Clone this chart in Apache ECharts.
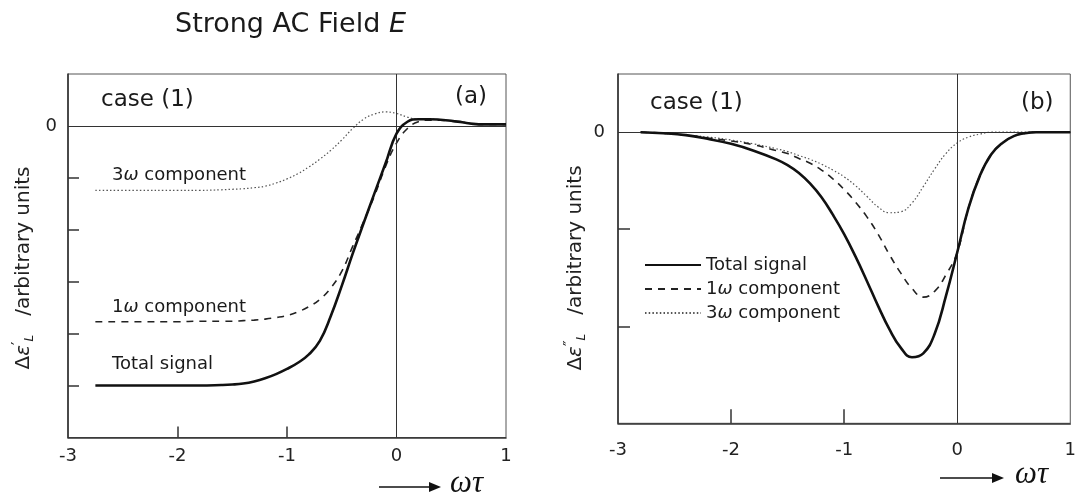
<!DOCTYPE html>
<html>
<head>
<meta charset="utf-8">
<script src="https://cdn.jsdelivr.net/npm/echarts@6/dist/echarts.min.js"></script>
<style>html,body{margin:0;padding:0;background:#fff;}#c{width:1079px;height:499px;}</style>
</head>
<body>
<div id="c"></div>
<script>
// ---- data ----
const leftX = [-2.75,-2.4,-2.0,-1.8,-1.6,-1.5,-1.4,-1.3,-1.2,-1.1,-1.0,-0.9,-0.8,-0.7,-0.6,-0.5,-0.4,-0.3,-0.2,-0.1,0,0.1,0.2,0.3,0.4,0.5,0.6,0.7,0.8,0.9,1.0];
const leftTotal = [-5.00,-5.00,-5.00,-5.00,-4.99,-4.98,-4.96,-4.92,-4.86,-4.78,-4.68,-4.56,-4.40,-4.14,-3.66,-3.08,-2.46,-1.87,-1.29,-0.72,-0.15,0.08,0.13,0.13,0.12,0.10,0.07,0.04,0.03,0.03,0.03];
const leftOne = [-3.77,-3.77,-3.77,-3.76,-3.76,-3.76,-3.75,-3.74,-3.72,-3.69,-3.65,-3.58,-3.48,-3.34,-3.12,-2.80,-2.32,-1.84,-1.34,-0.78,-0.33,-0.05,0.08,0.11,0.11,0.09,0.07,0.04,0.03,0.03,0.03];
const leftThree = [-1.24,-1.24,-1.24,-1.24,-1.23,-1.22,-1.21,-1.19,-1.16,-1.10,-1.02,-0.92,-0.79,-0.64,-0.47,-0.27,-0.05,0.13,0.23,0.27,0.24,0.17,0.13,0.13,0.12,0.10,0.07,0.04,0.03,0.03,0.03];

const rightX = [-2.8,-2.6,-2.4,-2.2,-2.0,-1.8,-1.6,-1.5,-1.4,-1.3,-1.2,-1.1,-1.0,-0.9,-0.8,-0.7,-0.6,-0.5,-0.4,-0.3,-0.2,-0.1,0,0.1,0.2,0.3,0.4,0.5,0.6,0.7,0.8,1.0];
const rightTotal = [0,-0.01,-0.03,-0.07,-0.12,-0.19,-0.28,-0.34,-0.42,-0.53,-0.67,-0.85,-1.05,-1.28,-1.53,-1.79,-2.03,-2.22,-2.32,-2.28,-2.08,-1.69,-1.24,-0.78,-0.45,-0.23,-0.11,-0.04,-0.01,0,0,0];
const rightOne = [0,-0.01,-0.03,-0.06,-0.09,-0.13,-0.19,-0.22,-0.27,-0.32,-0.39,-0.48,-0.59,-0.72,-0.87,-1.05,-1.26,-1.45,-1.61,-1.70,-1.64,-1.47,-1.24,-0.78,-0.45,-0.23,-0.11,-0.04,-0.01,0,0,0];
const rightThree = [0,-0.01,-0.03,-0.05,-0.08,-0.12,-0.17,-0.20,-0.24,-0.28,-0.33,-0.39,-0.46,-0.55,-0.66,-0.77,-0.83,-0.82,-0.73,-0.56,-0.38,-0.22,-0.11,-0.05,-0.02,0,0,0,0,0,0,0];

const xTickLabels = [-3,-2,-1,0,1];
const xTickMarks = [-2,-1];
const leftYTickMarks = [-5,-4,-3,-2,-1];
const rightYTickMarks = [-2,-1];
const yTickLabels = [0];
const seriesNames = ['Total signal','1ω component','3ω component'];

// ---- chart ----
const FONT = 'DejaVu Sans';
const chart = echarts.init(document.getElementById('c'), null, {renderer:'canvas'});
const pairs = (xs, ys) => xs.map((x,i)=>[x, ys[i]]);

const styles = [
  {color:'#111', width:2.6, type:'solid'},
  {color:'#222', width:1.6, type:[7,6]},
  {color:'#555', width:1.2, type:[1.5,2.2]}
];

function mkSeries(idx, xs, ys, si, withLines){
  const s = {
    type:'line', name:seriesNames[si], xAxisIndex:idx, yAxisIndex:idx,
    data:pairs(xs, ys), showSymbol:false, symbol:'none', smooth:0.45,
    lineStyle:{color:styles[si].color, width:styles[si].width, type:styles[si].type},
    itemStyle:{color:styles[si].color},
    z: 5 - si, silent:true, animation:false
  };
  if (withLines) {
    s.markLine = {
      silent:true, symbol:'none', animation:false, label:{show:false},
      lineStyle:{color:'#333', width:1, type:'solid'},
      data:[{yAxis:0},{xAxis:0}]
    };
  }
  return s;
}

function xAxisCfg(idx, tickLen, margin){
  return {
    gridIndex:idx, type:'value', min:-3, max:1, interval:1,
    axisLine:{show:true, onZero:false, lineStyle:{color:'#333', width:1.6}},
    axisTick:{show:true, inside:true, length:tickLen, customValues:xTickMarks, lineStyle:{color:'#333', width:1.5}},
    axisLabel:{show:true, customValues:xTickLabels, margin:margin, fontSize:18, fontFamily:FONT, color:'#222', showMinLabel:true, showMaxLabel:true},
    splitLine:{show:false}
  };
}
function yAxisCfg(idx, min, max, ticks, tickLen, margin){
  return {
    gridIndex:idx, type:'value', min:min, max:max, interval:1,
    axisLine:{show:true, onZero:false, lineStyle:{color:'#333', width:1.6}},
    axisTick:{show:true, inside:true, length:tickLen, customValues:ticks, lineStyle:{color:'#333', width:1.5}},
    axisLabel:{show:true, customValues:yTickLabels, margin:margin, fontSize:18, fontFamily:FONT, color:'#222'},
    splitLine:{show:false}
  };
}

const txt = (x, y, text, size) => ({
  type:'text', x:x, y:y, silent:true,
  style:{text:text, fontSize:size, fontFamily:FONT, fill:'#1a1a1a', align:'left', verticalAlign:'middle',
    rich:{
      n:{fontSize:size, fontFamily:FONT, fill:'#1a1a1a'},
      i:{fontSize:size, fontFamily:FONT, fontStyle:'italic', fill:'#1a1a1a'}
    }}
});

function yName(x, y, prime){
  return {
    type:'text', x:x, y:y, rotation:Math.PI/2, silent:true,
    style:{
      text:'{d|Δ}{e|ε}{p|' + prime + '}{s|L}{d|   /arbitrary units}',
      align:'center', verticalAlign:'middle', fontSize:20, fontFamily:FONT, fill:'#222',
      rich:{
        d:{fontSize:20, fontFamily:FONT, fill:'#222'},
        e:{fontSize:20, fontFamily:FONT, fontStyle:'italic', fill:'#222'},
        p:{fontSize:15, fontFamily:FONT, fill:'#222', padding:[0,0,9,0]},
        s:{fontSize:12, fontFamily:FONT, fontStyle:'italic', fill:'#222', padding:[11,0,0,0]}
      }
    }
  };
}

function arrow(x1, x2, y, tx){
  return [
    {type:'line', silent:true, shape:{x1:x1, y1:y, x2:x2-8, y2:y}, style:{stroke:'#111', lineWidth:1.6}},
    {type:'polygon', silent:true, shape:{points:[[x2-12,y-5],[x2,y],[x2-12,y+5]]}, style:{fill:'#111'}},
    {type:'text', x:tx, y:y-3, silent:true, style:{text:'ωτ', fontSize:31, fontFamily:'Liberation Serif', fontStyle:'italic', fill:'#111', align:'left', verticalAlign:'middle'}}
  ];
}

const option = {
  backgroundColor:'#fff',
  animation:false,
  grid:[
    {left:68, top:74, width:438, height:363.5, show:true, borderColor:'#555', borderWidth:1, backgroundColor:'transparent'},
    {left:618, top:74, width:459, height:349.3, show:true, borderColor:'#555', borderWidth:1, backgroundColor:'transparent'}
  ],
  xAxis:[ xAxisCfg(0, 11, 10), xAxisCfg(1, 14, 18) ],
  yAxis:[ yAxisCfg(0, -6, 1, leftYTickMarks, 11, 11), yAxisCfg(1, -3, 0.6, rightYTickMarks, 12, 13) ],
  legend:{
    show:true, orient:'vertical', left:644, top:256, padding:0,
    itemWidth:56, itemHeight:14, itemGap:6, selectedMode:false,
    data:seriesNames,
    itemStyle:{opacity:0, color:'transparent', borderWidth:0},
    textStyle:{fontSize:18, fontFamily:FONT, color:'#1a1a1a',
      rich:{n:{fontSize:18, fontFamily:FONT, color:'#1a1a1a'}, i:{fontSize:18, fontFamily:FONT, fontStyle:'italic', color:'#1a1a1a'}}},
    formatter: function(name){
      const m = name.match(/^(\d)ω(.*)$/);
      return m ? '{n|' + m[1] + '}{i|ω}{n|' + m[2] + '}' : '{n|' + name + '}';
    }
  },
  series:[
    mkSeries(0, leftX, leftTotal, 0, true),
    mkSeries(0, leftX, leftOne, 1, false),
    mkSeries(0, leftX, leftThree, 2, false),
    mkSeries(1, rightX, rightTotal, 0, true),
    mkSeries(1, rightX, rightOne, 1, false),
    mkSeries(1, rightX, rightThree, 2, false)
  ],
  graphic:[
    txt(175, 25, '{n|Strong AC Field }{i|E}', 27),
    txt(101, 100, 'case (1)', 23),
    txt(455, 97, '(a)', 23),
    txt(650, 103, 'case (1)', 23),
    txt(1021, 103, '(b)', 23),
    txt(112, 175, '{n|3}{i|ω}{n| component}', 18),
    txt(112, 307, '{n|1}{i|ω}{n| component}', 18),
    txt(112, 364, 'Total signal', 18),
    yName(24, 268, '′'),
    yName(576, 268, '″')
  ].concat(arrow(379, 441, 487, 450)).concat(arrow(940, 1004, 478, 1015))
};
chart.setOption(option);
</script>
</body>
</html>
